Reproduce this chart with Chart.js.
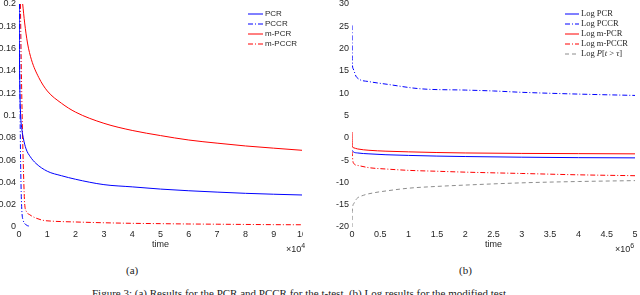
<!DOCTYPE html>
<html>
<head>
<meta charset="utf-8">
<script src="https://cdn.jsdelivr.net/npm/chart.js@4"></script>
<style>
  body { margin: 0; background: #fff; width: 640px; height: 295px; position: relative; overflow: hidden; }
  #wrapA { position: absolute; left: 0; top: -10px; width: 303px; height: 270px; overflow: hidden; }
  #wrapB { position: absolute; left: 320px; top: -10px; width: 320px; height: 270px; }
  .exp { position: absolute; font: 9px 'Liberation Sans', Arial, sans-serif; color: #262626; white-space: nowrap; }
  .exp sup { font-size: 7px; vertical-align: 4px; line-height: 0; }
  .serif { position: absolute; font: 11px 'Liberation Serif', 'Times New Roman', serif; color: #222; white-space: nowrap; }
</style>
</head>
<body>
<div id="wrapA"><canvas id="chartA" width="320" height="270"></canvas></div>
<div id="wrapB"><canvas id="chartB" width="320" height="270"></canvas></div>
<div class="exp" style="left:286px;top:244px">×10<sup>4</sup></div>
<div class="exp" style="left:615px;top:244px">×10<sup>6</sup></div>
<div class="serif" style="left:126px;top:264px">(a)</div>
<div class="serif" style="left:459px;top:264px">(b)</div>
<div class="serif" id="caption" style="left:92px;top:287px">Figure 3: (a) Results for the PCR and PCCR for the t-test. (b) Log results for the modified test.</div>

<script>
// ---- panel (a): time in units of 1e4 ----
const xTicksA = [0, 1, 2, 3, 4, 5, 6, 7, 8, 9, 10];
const xLabelsA = ['0', '1', '2', '3', '4', '5', '6', '7', '8', '9', '10'];
const yTicksA = [0, 0.02, 0.04, 0.06, 0.08, 0.1, 0.12, 0.14, 0.16, 0.18, 0.2];
const yLabelsA = ['0', '0.02', '0.04', '0.06', '0.08', '0.1', '0.12', '0.14', '0.16', '0.18', '0.2'];
const seriesNamesA = ['PCR', 'PCCR', 'm-PCR', 'm-PCCR'];

const pcrT = [0.005, 0.02, 0.05, 0.1, 0.15, 0.25, 0.4, 0.6, 1, 1.5, 2, 3, 4, 5, 6, 7, 8, 9, 10];
const pcrV = [0.2, 0.14, 0.105, 0.088, 0.08, 0.07, 0.063, 0.057, 0.05, 0.046, 0.0428, 0.038, 0.036, 0.034, 0.0325, 0.0313, 0.0302, 0.0294, 0.0287];
const pccrT = [0.02, 0.04, 0.07, 0.1, 0.15, 0.25, 0.4];
const pccrV = [0.2, 0.1, 0.04, 0.015, 0.006, 0.002, 0.0005];
const mPcrT = [0.13, 0.2, 0.3, 0.44, 0.7, 1, 1.5, 2, 3, 4, 5, 6, 7, 8, 9, 10];
const mPcrV = [0.2, 0.183, 0.165, 0.15, 0.134, 0.122, 0.111, 0.103, 0.093, 0.0866, 0.082, 0.078, 0.0752, 0.0727, 0.0707, 0.0688];
const mPccrT = [0.05, 0.09, 0.13, 0.17, 0.2, 0.26, 0.38, 0.6, 0.85, 1.2, 2, 3, 4, 5, 6, 7, 8, 9, 10];
const mPccrV = [0.2, 0.13, 0.078, 0.04, 0.021, 0.014, 0.011, 0.008, 0.006, 0.0052, 0.0045, 0.0038, 0.0033, 0.003, 0.0027, 0.0025, 0.0023, 0.0021, 0.002];

// ---- panel (b): time in units of 1e6 ----
const xTicksB = [0, 0.5, 1, 1.5, 2, 2.5, 3, 3.5, 4, 4.5, 5];
const xLabelsB = ['0', '0.5', '1', '1.5', '2', '2.5', '3', '3.5', '4', '4.5', '5'];
const yTicksB = [-20, -15, -10, -5, 0, 5, 10, 15, 20, 25, 30];
const yLabelsB = ['-20', '-15', '-10', '-5', '0', '5', '10', '15', '20', '25', '30'];
const seriesNamesB = ['Log PCR', 'Log PCCR', 'Log m-PCR', 'Log m-PCCR', 'Log P[t > τ]'];

const logPcrT = [0, 0.03, 0.1, 0.3, 0.6, 1, 1.5, 2, 3, 4, 5];
const logPcrV = [-2.8, -3.2, -3.4, -3.6, -3.8, -3.95, -4.1, -4.2, -4.35, -4.45, -4.5];
const logPccrT = [0, 0.005, 0.02, 0.08, 0.3, 0.62, 1.2, 2, 2.5, 3, 4, 5];
const logPccrV = [25.2, 17, 15.5, 13.6, 12.6, 12, 11, 10.7, 10.5, 10.2, 9.8, 9.5];
const logMPcrT = [0, 0.005, 0.02, 0.1, 0.3, 0.6, 1, 1.5, 2, 3, 4, 5];
const logMPcrV = [1.3, -1.8, -2.2, -2.5, -2.8, -3.0, -3.15, -3.3, -3.4, -3.5, -3.55, -3.6];
const logMPccrT = [0, 0.02, 0.1, 0.3, 0.6, 1, 1.5, 2, 3, 4, 5];
const logMPccrV = [-3, -5.5, -6.2, -6.7, -7.0, -7.3, -7.5, -7.7, -8.0, -8.3, -8.5];
const logTailT = [0, 0.005, 0.03, 0.08, 0.2, 0.4, 0.61, 1, 1.5, 2, 3, 4, 5];
const logTailV = [-20, -16.5, -14.8, -13.7, -12.9, -12.3, -11.9, -11.3, -10.9, -10.6, -10.1, -9.8, -9.6];

const BLUE = '#0000ff';
const RED = '#ff0000';
const GREY = '#8c8c8c';
const TEXT = '#262626';
const DASHDOT = [5, 2, 1, 2];
const DASHED = [4, 3];

function pts(ts, vs) {
  return ts.map((t, i) => ({ x: t, y: vs[i] }));
}

function line(label, ts, vs, color, dash) {
  return {
    label: label,
    data: pts(ts, vs),
    borderColor: color,
    borderWidth: 1,
    borderDash: dash || [],
    pointRadius: 0,
    fill: false,
    cubicInterpolationMode: 'monotone'
  };
}

// small legend drawn inside the plot, like the matlab one
const miniLegend = {
  id: 'miniLegend',
  afterDraw(chart, args, opts) {
    const ctx = chart.ctx;
    ctx.save();
    chart.data.datasets.forEach((ds, i) => {
      const y = opts.y + i * opts.gap;
      ctx.strokeStyle = ds.borderColor;
      ctx.lineWidth = 1;
      ctx.setLineDash(ds.borderDash);
      ctx.beginPath();
      ctx.moveTo(opts.x, y);
      ctx.lineTo(opts.x + opts.len, y);
      ctx.stroke();
      ctx.setLineDash([]);
      ctx.fillStyle = TEXT;
      ctx.textBaseline = 'middle';
      let x = opts.x + opts.len + 2;
      if (ds.label.indexOf('[') >= 0) {
        // math part in italics
        const head = ds.label.slice(0, ds.label.indexOf(' ') + 1);
        const parts = [head].concat(ds.label.slice(head.length).split(/([Ptτ])/));
        parts.forEach(p => {
          if (!p) return;
          ctx.font = (/^[Ptτ]$/.test(p) ? 'italic ' : '') + opts.font;
          ctx.fillText(p, x, y);
          x += ctx.measureText(p).width;
        });
      } else {
        ctx.font = opts.font;
        ctx.fillText(ds.label, x, y);
      }
    });
    ctx.restore();
  }
};

function fixedTicks(values) {
  return scale => { scale.ticks = values.map(v => ({ value: v })); };
}

function makeOptions(cfg) {
  return {
    responsive: false,
    animation: false,
    layout: { padding: { top: 14, right: cfg.padRight, left: 0, bottom: 0 } },
    plugins: {
      legend: { display: false },
      tooltip: { enabled: false },
      miniLegend: cfg.legend
    },
    scales: {
      x: {
        type: 'linear',
        min: cfg.xTicks[0],
        max: cfg.xTicks[cfg.xTicks.length - 1],
        afterBuildTicks: fixedTicks(cfg.xTicks),
        afterFit: s => { s.height = 33; },
        grid: { display: false, drawTicks: false },
        border: { display: false },
        ticks: {
          autoSkip: false,
          maxRotation: 0,
          padding: 2,
          color: TEXT,
          font: { family: "'Liberation Sans', Arial, sans-serif", size: 9 },
          callback: (v, i) => cfg.xLabels[i]
        },
        title: {
          display: true,
          text: 'time',
          color: TEXT,
          padding: { top: 0, bottom: 10 },
          font: { family: "'Liberation Sans', Arial, sans-serif", size: 9 }
        }
      },
      y: {
        type: 'linear',
        min: cfg.yTicks[0],
        max: cfg.yTicks[cfg.yTicks.length - 1],
        afterBuildTicks: fixedTicks(cfg.yTicks),
        afterFit: s => { s.width = cfg.yWidth; },
        grid: { display: false, drawTicks: false },
        border: { display: false },
        ticks: {
          autoSkip: false,
          padding: 3,
          color: TEXT,
          font: { family: "'Liberation Sans', Arial, sans-serif", size: 9 },
          callback: (v, i) => cfg.yLabels[i]
        }
      }
    }
  };
}

new Chart(document.getElementById('chartA'), {
  type: 'line',
  data: {
    datasets: [
      line(seriesNamesA[0], pcrT, pcrV, BLUE),
      line(seriesNamesA[1], pccrT, pccrV, BLUE, DASHDOT),
      line(seriesNamesA[2], mPcrT, mPcrV, RED),
      line(seriesNamesA[3], mPccrT, mPccrV, RED, DASHDOT)
    ]
  },
  options: makeOptions({
    xTicks: xTicksA, xLabels: xLabelsA, yTicks: yTicksA, yLabels: yLabelsA,
    yWidth: 19, padRight: 18,
    legend: { x: 248, y: 24, gap: 10, len: 15, font: "8px 'Liberation Sans', Arial, sans-serif" }
  }),
  plugins: [miniLegend]
});

new Chart(document.getElementById('chartB'), {
  type: 'line',
  data: {
    datasets: [
      line(seriesNamesB[0], logPcrT, logPcrV, BLUE),
      line(seriesNamesB[1], logPccrT, logPccrV, BLUE, DASHDOT),
      line(seriesNamesB[2], logMPcrT, logMPcrV, RED),
      line(seriesNamesB[3], logMPccrT, logMPccrV, RED, DASHDOT),
      line(seriesNamesB[4], logTailT, logTailV, GREY, DASHED)
    ]
  },
  options: makeOptions({
    xTicks: xTicksB, xLabels: xLabelsB, yTicks: yTicksB, yLabels: yLabelsB,
    yWidth: 32, padRight: 5,
    legend: { x: 245, y: 24, gap: 10, len: 14, font: "8.5px 'Liberation Serif', 'Times New Roman', serif" }
  }),
  plugins: [miniLegend]
});
</script>
</body>
</html>
